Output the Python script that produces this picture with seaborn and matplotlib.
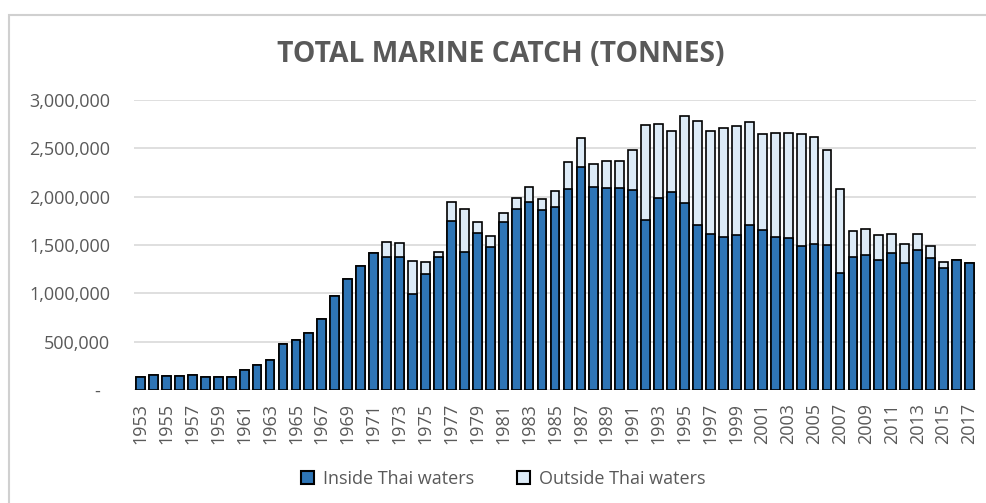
import matplotlib
matplotlib.use("Agg")
import matplotlib.pyplot as plt
import matplotlib.patches as mpatches
from matplotlib.ticker import FuncFormatter
import seaborn as sns
import pandas as pd

years = [1953, 1954, 1955, 1956, 1957, 1958, 1959, 1960, 1961, 1962,
         1963, 1964, 1965, 1966, 1967, 1968, 1969, 1970, 1971, 1972,
         1973, 1974, 1975, 1976, 1977, 1978, 1979, 1980, 1981, 1982,
         1983, 1984, 1985, 1986, 1987, 1988, 1989, 1990, 1991, 1992,
         1993, 1994, 1995, 1996, 1997, 1998, 1999, 2000, 2001, 2002,
         2003, 2004, 2005, 2006, 2007, 2008, 2009, 2010, 2011, 2012,
         2013, 2014, 2015, 2016, 2017]

inside_thai = [131000, 155000, 145000, 145000, 155000, 138000, 138000, 138000, 207000, 255000,
               310000, 476000, 517000, 586000, 738000, 972000, 1145000, 1283000, 1414000, 1379000,
               1379000, 993000, 1197000, 1379000, 1752000, 1424000, 1627000, 1483000, 1741000, 1872000,
               1948000, 1862000, 1890000, 2076000, 2310000, 2103000, 2093000, 2093000, 2069000, 1759000,
               1990000, 2045000, 1931000, 1707000, 1614000, 1586000, 1603000, 1707000, 1655000, 1586000,
               1576000, 1493000, 1507000, 1500000, 1214000, 1373000, 1397000, 1345000, 1414000, 1317000,
               1448000, 1369000, 1265000, 1345000, 1311000]

outside_thai = [0, 0, 0, 0, 0, 0, 0, 0, 0, 0,
                0, 0, 0, 0, 0, 0, 0, 0, 0, 149000,
                138000, 345000, 124000, 45000, 196000, 448000, 108000, 114000, 87000, 118000,
                149000, 114000, 169000, 286000, 294000, 232000, 276000, 276000, 414000, 982000,
                762000, 638000, 907000, 1076000, 1069000, 1121000, 1128000, 1069000, 990000, 1069000,
                1079000, 1152000, 1107000, 983000, 865000, 272000, 265000, 258000, 200000, 190000,
                166000, 124000, 56000, 0, 0]

title = "TOTAL MARINE CATCH (TONNES)"
series_names = ["Inside Thai waters", "Outside Thai waters"]

df = pd.DataFrame({"year": [str(y) for y in years],
                   "inside": inside_thai,
                   "outside": outside_thai})
df["total"] = df["inside"] + df["outside"]

sns.set_theme(style="white")
plt.rcParams["font.family"] = ["Open Sans", "DejaVu Sans"]

TEXT = "#595959"
BLUE = "#2E75B6"
LIGHT = "#DDEBF7"

fig = plt.figure(figsize=(9.87, 5.03), dpi=100)
ax = fig.add_axes([134 / 987, 1 - 390 / 503, (976 - 134) / 987, 290 / 503])

order = df["year"].tolist()
sns.barplot(data=df, x="year", y="total", order=order, color=LIGHT,
            saturation=1, width=0.68, edgecolor="black", linewidth=1.2, ax=ax)
sns.barplot(data=df, x="year", y="inside", order=order, color=BLUE,
            saturation=1, width=0.68, edgecolor="black", linewidth=1.2, ax=ax)

ax.set_ylim(0, 3000000)
ax.set_xlim(-0.5, len(years) - 0.5)
ax.set_yticks([0, 500000, 1000000, 1500000, 2000000, 2500000, 3000000])
ax.yaxis.set_major_formatter(FuncFormatter(lambda v, p: "-  " if v == 0 else f"{v:,.0f}"))
ax.set_xticks(range(0, len(years), 2))
ax.set_xticklabels([str(y) for y in years[::2]], rotation=90)
ax.tick_params(axis="y", length=0, pad=17, labelsize=13, labelcolor=TEXT)
ax.tick_params(axis="x", length=0, pad=9.5, labelsize=13, labelcolor=TEXT)
ax.set_xlabel("")
ax.set_ylabel("")
ax.grid(axis="y", color="#D9D9D9", linewidth=1.2)
ax.set_axisbelow(True)
for s in ax.spines.values():
    s.set_visible(False)

fig.text(0.507, 1 - 54 / 503, title, ha="center", va="center",
         fontsize=20.3, fontweight="bold", color=TEXT)

handles = [mpatches.Patch(facecolor=BLUE, edgecolor="black", linewidth=1.5, label=series_names[0]),
           mpatches.Patch(facecolor=LIGHT, edgecolor="black", linewidth=1.5, label=series_names[1])]
fig.legend(handles=handles, loc="center", bbox_to_anchor=(0.510, 1 - 479 / 503),
           ncol=2, frameon=False, fontsize=13, labelcolor=TEXT,
           handlelength=0.7, handleheight=0.7, handletextpad=0.5, columnspacing=2.4)

border = mpatches.Rectangle((9 / 987, -0.1), 1.2, 1 - 15 / 503 + 0.1,
                            transform=fig.transFigure, fill=False,
                            edgecolor="#D0D0D0", linewidth=1.5)
fig.patches.append(border)

fig.savefig("out.png", dpi=100)
